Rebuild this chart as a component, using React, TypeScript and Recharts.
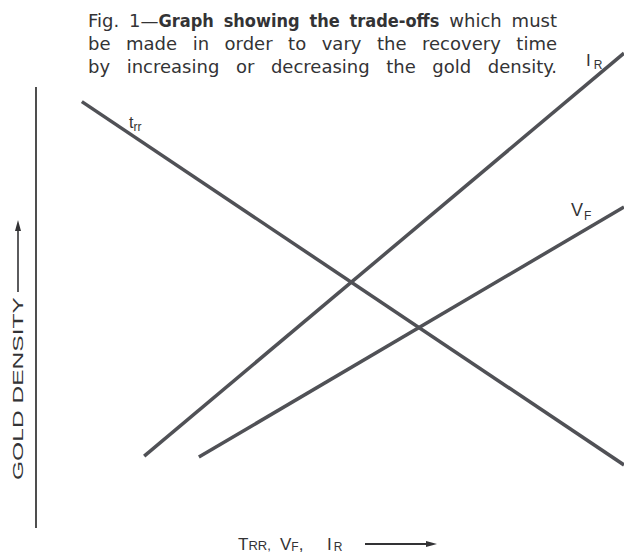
import { LineChart, Line, XAxis, YAxis, ReferenceLine } from "recharts";

// relative units: x 0..100 along the horizontal axis, y 0..100 up to the top of the vertical axis
const trrX = [7.8, 100];
const trrY = [96.7, 14.3];
const irX = [18.4, 100];
const irY = [16.3, 107.7];
const vfX = [27.7, 100];
const vfY = [16.1, 72.8];

const toPoints = (xs: number[], ys: number[]) => xs.map((x, i) => ({ x, y: ys[i] }));

const series = [
  { name: "trr", data: toPoints(trrX, trrY) },
  { name: "IR", data: toPoints(irX, irY) },
  { name: "VF", data: toPoints(vfX, vfY) },
];

const titleLines = [
  ["Fig. 1\u2014", "Graph showing the trade-offs", " which must"],
  ["be made in order to vary the recovery time", "", ""],
  ["by increasing or decreasing the gold density.", "", ""],
];

const ink = "#333335";
const lineInk = "#505156";
const font = '"Liberation Sans", Arial, sans-serif';

export default function App() {
  return (
    <div style={{ position: "absolute", left: 0, top: 0, width: 624, height: 553, background: "#fff", overflow: "hidden" }}>
      <LineChart width={624} height={553} margin={{ top: 43, right: 0, bottom: 25, left: 36 }}>
        <XAxis
          type="number"
          dataKey="x"
          domain={[0, 100]}
          tick={false}
          tickLine={false}
          height={0}
          axisLine={{ stroke: "#222", strokeWidth: 1.6 }}
        />
        <YAxis type="number" dataKey="y" domain={[0, 110]} hide />
        <ReferenceLine
          segment={[
            { x: 0, y: 0 },
            { x: 0, y: 100 },
          ]}
          stroke="#222"
          strokeWidth={1.6}
        />
        {series.map((s) => (
          <Line
            key={s.name}
            data={s.data}
            dataKey="y"
            type="linear"
            stroke={lineInk}
            strokeWidth={3.5}
            dot={false}
            activeDot={false}
            isAnimationActive={false}
          />
        ))}
      </LineChart>

      <div
        style={{
          position: "absolute",
          left: 88,
          top: 9,
          width: 469,
          fontFamily: '"DejaVu Sans", sans-serif',
          fontSize: 18,
          lineHeight: "23px",
          color: ink,
        }}
      >
        {titleLines.map((l, i) => (
          <div key={i} style={{ textAlign: "justify", textAlignLast: "justify" }}>
            {l[0]}
            {l[1] && (
              <span style={{ fontFamily: '"DejaVu Sans Condensed", "DejaVu Sans", sans-serif', fontWeight: "bold" }}>
                {l[1]}
              </span>
            )}
            {l[2]}
          </div>
        ))}
      </div>

      <svg width={624} height={553} style={{ position: "absolute", left: 0, top: 0, pointerEvents: "none" }}>
        <g fill={ink} fontFamily={font}>
          <text x={129} y={128} fontSize={16}>
            t<tspan fontSize={12} dy={3}>rr</tspan>
          </text>
          <text x={586} y={66} fontSize={17}>
            I<tspan fontSize={12} dx={3} dy={3}>R</tspan>
          </text>
          <text x={571} y={216} fontSize={18}>
            V<tspan fontSize={12} dx={1} dy={4}>F</tspan>
          </text>

          <text transform="rotate(-90)" x={-480} y={23} fontSize={15} textLength={183} lengthAdjust="spacingAndGlyphs">
            GOLD DENSITY
          </text>
          <line x1={18} y1={292} x2={18} y2={228} stroke={ink} strokeWidth={1.6} />
          <polygon points="18,220 15,231 21,231" />

          <text y={550} fontSize={17}>
            <tspan x={238}>T</tspan>
            <tspan fontSize={13}>RR,</tspan>
            <tspan x={280}>V</tspan>
            <tspan fontSize={12} dy={1}>F</tspan>
            <tspan dy={-1}>,</tspan>
            <tspan x={327}>I</tspan>
            <tspan fontSize={12} dx={2} dy={1}>R</tspan>
          </text>
          <line x1={365} y1={544} x2={428} y2={544} stroke={ink} strokeWidth={1.8} />
          <polygon points="437,544 426,541 426,547" />
        </g>
      </svg>
    </div>
  );
}
